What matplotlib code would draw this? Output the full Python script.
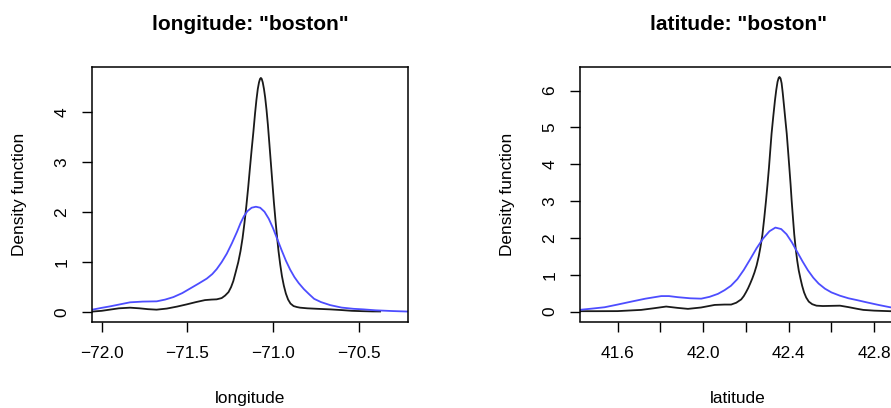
import matplotlib
matplotlib.use("Agg")
import matplotlib.pyplot as plt

plt.rcParams['font.family'] = ['Liberation Sans', 'DejaVu Sans']

# ---- longitude panel data ----
lon_obs_x = [-72.055, -72.0, -71.95, -71.9, -71.835, -71.78, -71.73, -71.68, -71.62, -71.56,
             -71.504, -71.45, -71.397, -71.36, -71.329, -71.30, -71.28, -71.26, -71.245, -71.232,
             -71.218, -71.203, -71.19, -71.178, -71.167, -71.156, -71.145, -71.135, -71.125, -71.115,
             -71.105, -71.097, -71.089, -71.082, -71.076, -71.071, -71.066, -71.06, -71.053, -71.046,
             -71.038, -71.03, -71.022, -71.013, -71.004, -70.995, -70.986, -70.977, -70.968, -70.958,
             -70.948, -70.937, -70.925, -70.912, -70.898, -70.88, -70.86, -70.842, -70.80, -70.74,
             -70.667, -70.60, -70.54, -70.48, -70.42, -70.375]
lon_obs_y = [0.01, 0.025, 0.05, 0.075, 0.088, 0.075, 0.058, 0.048, 0.07, 0.11,
             0.154, 0.2, 0.24, 0.25, 0.255, 0.28, 0.33, 0.40, 0.50, 0.62,
             0.80, 1.0, 1.22, 1.48, 1.78, 2.12, 2.5, 2.88, 3.25, 3.6,
             3.98, 4.25, 4.47, 4.6, 4.67, 4.69, 4.67, 4.6, 4.47, 4.3,
             4.05, 3.75, 3.4, 3.0, 2.6, 2.2, 1.85, 1.52, 1.22, 0.95,
             0.72, 0.53, 0.37, 0.25, 0.17, 0.12, 0.1, 0.088, 0.075, 0.065,
             0.054, 0.04, 0.025, 0.018, 0.013, 0.012]

lon_fit_x = [-72.06, -72.0, -71.952, -71.9, -71.835, -71.76, -71.679, -71.63, -71.582, -71.53,
             -71.485, -71.435, -71.387, -71.355, -71.329, -71.30, -71.27, -71.24, -71.21, -71.19,
             -71.17, -71.15, -71.125, -71.1, -71.075, -71.05, -71.025, -71.0, -70.975, -70.95,
             -70.925, -70.9, -70.875, -70.85, -70.82, -70.79, -70.76, -70.72, -70.667, -70.60,
             -70.53, -70.473, -70.40, -70.30, -70.21]
lon_fit_y = [0.045, 0.085, 0.114, 0.15, 0.195, 0.21, 0.215, 0.25, 0.30, 0.38,
             0.47, 0.57, 0.67, 0.76, 0.86, 1.0, 1.17, 1.38, 1.61, 1.78,
             1.92, 2.02, 2.09, 2.11, 2.09, 2.01, 1.87, 1.68, 1.46, 1.24,
             1.03, 0.85, 0.70, 0.58, 0.46, 0.36, 0.265, 0.2, 0.14, 0.09,
             0.065, 0.054, 0.035, 0.02, 0.01]

# ---- latitude panel data ----
lat_obs_x = [41.422, 41.5, 41.6, 41.71, 41.77, 41.827, 41.88, 41.929, 41.99, 42.054,
             42.1, 42.131, 42.155, 42.178, 42.19, 42.2, 42.21, 42.22, 42.23, 42.24,
             42.25, 42.26, 42.268, 42.277, 42.286, 42.294, 42.301, 42.308, 42.314, 42.320,
             42.328, 42.336, 42.342, 42.348, 42.353, 42.357, 42.362, 42.367, 42.372, 42.378,
             42.385, 42.391, 42.397, 42.403, 42.409, 42.414, 42.420, 42.426, 42.433, 42.44,
             42.447, 42.455, 42.463, 42.472, 42.482, 42.494, 42.51, 42.53, 42.56, 42.6,
             42.64, 42.68, 42.72, 42.749, 42.8, 42.874, 42.91]
lat_obs_y = [0.01, 0.01, 0.012, 0.045, 0.09, 0.136, 0.1, 0.073, 0.11, 0.18,
             0.19, 0.19, 0.24, 0.33, 0.42, 0.52, 0.63, 0.76, 0.9, 1.06,
             1.25, 1.5, 1.75, 2.08, 2.55, 3.01, 3.45, 3.92, 4.38, 4.83,
             5.3, 5.74, 6.02, 6.24, 6.34, 6.37, 6.33, 6.2, 5.95, 5.6,
             5.18, 4.83, 4.38, 3.92, 3.45, 3.01, 2.55, 2.1, 1.7, 1.38,
             1.12, 0.9, 0.7, 0.52, 0.38, 0.27, 0.2, 0.16, 0.15, 0.155,
             0.16, 0.12, 0.075, 0.045, 0.025, 0.01, 0.01]

lat_fit_x = [41.42, 41.48, 41.539, 41.6, 41.664, 41.73, 41.804, 41.84, 41.882, 41.94,
             41.991, 42.03, 42.069, 42.10, 42.13, 42.16, 42.19, 42.22, 42.25, 42.28,
             42.31, 42.338, 42.365, 42.39, 42.415, 42.44, 42.465, 42.49, 42.515, 42.54,
             42.57, 42.6, 42.64, 42.68, 42.72, 42.765, 42.82, 42.874, 42.91]
lat_fit_y = [0.045, 0.08, 0.117, 0.19, 0.27, 0.35, 0.42, 0.42, 0.39, 0.36,
             0.35, 0.4, 0.48, 0.58, 0.70, 0.88, 1.13, 1.42, 1.72, 1.98,
             2.18, 2.28, 2.24, 2.1, 1.88, 1.62, 1.36, 1.12, 0.92, 0.76,
             0.62, 0.52, 0.43, 0.36, 0.31, 0.25, 0.18, 0.117, 0.09]

lon_xticks = [-72.0, -71.5, -71.0, -70.5]
lon_xticklabels = ["\u221272.0", "\u221271.5", "\u221271.0", "\u221270.5"]
lon_yticks = [0, 1, 2, 3, 4]
lat_xticks = [41.6, 41.8, 42.0, 42.2, 42.4, 42.6, 42.8]
lat_xticklabels = ["41.6", "", "42.0", "", "42.4", "", "42.8"]
lat_yticks = [0, 1, 2, 3, 4, 5, 6]

obs_color = "#1a1a1a"
fit_color = "#4d4dff"

W, H = 891, 408
fig = plt.figure(figsize=(W / 100, H / 100), dpi=100)

def px_axes(left, top, width, height):
    return fig.add_axes([left / W, 1 - (top + height) / H, width / W, height / H])

ax1 = px_axes(92, 67, 316, 254.5)
ax2 = px_axes(580, 67, 316, 254.5)

base = 12.4

def style(ax, title, xlabel, xticks, xticklabels, yticks):
    for s in ax.spines.values():
        s.set_linewidth(1.1)
        s.set_color("black")
    ax.set_xticks(xticks)
    ax.set_xticklabels(xticklabels)
    ax.set_yticks(yticks)
    ax.set_yticklabels([str(v) for v in yticks])
    ax.tick_params(axis="x", direction="out", length=7.2, width=1.0,
                   labelsize=base, pad=10.4, color="black")
    ax.tick_params(axis="y", direction="out", length=7.2, width=1.0,
                   labelsize=base, pad=9.0, color="black", labelrotation=90)
    for lab in ax.get_yticklabels():
        lab.set_va("center")
    ax.set_title(title, fontsize=15, fontweight="bold", pad=27)
    ax.set_xlabel(xlabel, fontsize=base, labelpad=21.5)
    ax.set_ylabel("Density function", fontsize=base, labelpad=20)

ax1.plot(lon_obs_x, lon_obs_y, color=obs_color, lw=1.3)
ax1.plot(lon_fit_x, lon_fit_y, color=fit_color, lw=1.3)
ax1.set_xlim(-72.057, -70.212)
ax1.set_ylim(-0.189, 4.909)
style(ax1, 'longitude: "boston"', "longitude", lon_xticks, lon_xticklabels, lon_yticks)

ax2.plot(lat_obs_x, lat_obs_y, color=obs_color, lw=1.3)
ax2.plot(lat_fit_x, lat_fit_y, color=fit_color, lw=1.3)
ax2.set_xlim(41.424, 42.902)
ax2.set_ylim(-0.27, 6.64)
style(ax2, 'latitude: "boston"', "latitude", lat_xticks, lat_xticklabels, lat_yticks)

fig.savefig("out.png", dpi=100)
